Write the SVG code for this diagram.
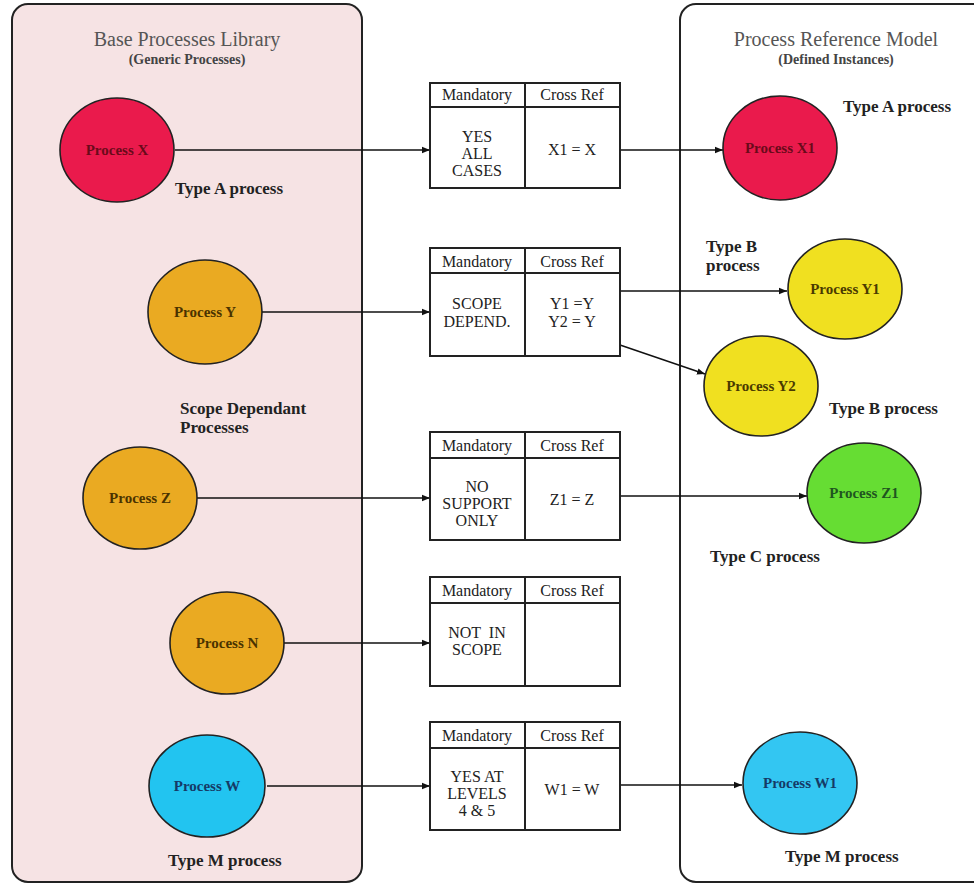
<svg xmlns="http://www.w3.org/2000/svg" width="974" height="885" viewBox="0 0 974 885">
<defs>
<marker id="arr" viewBox="0 0 10 10" refX="10" refY="5" markerWidth="8" markerHeight="8" markerUnits="userSpaceOnUse" orient="auto">
<path d="M0,1 L10,5 L0,9 Z" fill="#111"/>
</marker>
<style>
text{font-family:'Liberation Serif','Times New Roman','DejaVu Serif',serif}
.panel{stroke:#222;stroke-width:2}
.t{text-anchor:middle}
.title{font-size:20px;fill:#555}
.sub{font-size:14px;font-weight:bold;fill:#444}
.lbl{font-size:17px;font-weight:bold;fill:#222}
.node{stroke:#222;stroke-width:1.6}
.nt{font-size:15px;font-weight:bold;text-anchor:middle}
.tb{fill:#fff;stroke:#222;stroke-width:2}
.tt{font-size:16px;fill:#222;text-anchor:middle}
.c{stroke:#111;stroke-width:1.5;fill:none}
</style>
</defs>
<rect width="974" height="885" fill="#fff"/>
<rect class="panel" x="12" y="4" width="350" height="878" rx="16" fill="#f6e3e4"/>
<rect class="panel" x="680" y="4" width="320" height="878" rx="16" fill="#fff"/>
<text class="t title" x="187" y="46">Base Processes Library</text>
<text class="t sub" x="187" y="64">(Generic Processes)</text>
<text class="t title" x="836" y="46">Process Reference Model</text>
<text class="t sub" x="836" y="64">(Defined Instances)</text>

<g id="connectors">
<line class="c" x1="175" y1="150" x2="430" y2="150" marker-end="url(#arr)"/>
<line class="c" x1="620" y1="150" x2="723" y2="150" marker-end="url(#arr)"/>
<line class="c" x1="262" y1="312" x2="430" y2="312" marker-end="url(#arr)"/>
<line class="c" x1="620" y1="291" x2="787" y2="291" marker-end="url(#arr)"/>
<line class="c" x1="620" y1="345" x2="705" y2="374" marker-end="url(#arr)"/>
<line class="c" x1="197" y1="498" x2="430" y2="498" marker-end="url(#arr)"/>
<line class="c" x1="620" y1="496" x2="807" y2="496" marker-end="url(#arr)"/>
<line class="c" x1="284" y1="643" x2="430" y2="643" marker-end="url(#arr)"/>
<line class="c" x1="267" y1="786" x2="430" y2="786" marker-end="url(#arr)"/>
<line class="c" x1="620" y1="785" x2="742" y2="785" marker-end="url(#arr)"/>
</g>

<g id="processX">
<ellipse class="node" cx="117" cy="150" rx="57" ry="52" fill="#ea1a4c"/>
<text class="nt" x="117" y="155" fill="#6a0a1a">Process X</text>
</g>
<text class="lbl" x="175" y="194">Type A process</text>

<g id="processY">
<ellipse class="node" cx="205" cy="312" rx="57" ry="52" fill="#eaaa22"/>
<text class="nt" x="205" y="317" fill="#4a3300">Process Y</text>
</g>
<g id="processZ">
<ellipse class="node" cx="140" cy="498" rx="57" ry="51" fill="#eaaa22"/>
<text class="nt" x="140" y="503" fill="#4a3300">Process Z</text>
</g>
<text class="lbl" x="180" y="414">Scope Dependant</text>
<text class="lbl" x="180" y="433">Processes</text>
<g id="processN">
<ellipse class="node" cx="227" cy="643" rx="57" ry="51" fill="#eaaa22"/>
<text class="nt" x="227" y="648" fill="#4a3300">Process N</text>
</g>
<g id="processW">
<ellipse class="node" cx="207" cy="786" rx="58" ry="51" fill="#22c4f0"/>
<text class="nt" x="207" y="791" fill="#153a66">Process W</text>
</g>
<text class="lbl" x="168" y="866">Type M process</text>

<g id="table1">
<rect class="tb" x="430" y="83" width="190" height="105"/>
<line class="tb" x1="430" y1="107" x2="620" y2="107"/>
<line class="tb" x1="525" y1="83" x2="525" y2="188"/>
<text class="tt" x="477" y="100">Mandatory</text>
<text class="tt" x="572" y="100">Cross Ref</text>
<text class="tt" x="477" y="142">YES</text>
<text class="tt" x="477" y="159">ALL</text>
<text class="tt" x="477" y="176">CASES</text>
<text class="tt" x="572" y="155">X1 = X</text>
</g>
<g id="table2">
<rect class="tb" x="430" y="248" width="190" height="108"/>
<line class="tb" x1="430" y1="273" x2="620" y2="273"/>
<line class="tb" x1="525" y1="248" x2="525" y2="356"/>
<text class="tt" x="477" y="267">Mandatory</text>
<text class="tt" x="572" y="267">Cross Ref</text>
<text class="tt" x="477" y="309">SCOPE</text>
<text class="tt" x="477" y="327">DEPEND.</text>
<text class="tt" x="572" y="309">Y1 =Y</text>
<text class="tt" x="572" y="327">Y2 = Y</text>
</g>
<g id="table3">
<rect class="tb" x="430" y="432" width="190" height="108"/>
<line class="tb" x1="430" y1="458" x2="620" y2="458"/>
<line class="tb" x1="525" y1="432" x2="525" y2="540"/>
<text class="tt" x="477" y="451">Mandatory</text>
<text class="tt" x="572" y="451">Cross Ref</text>
<text class="tt" x="477" y="492">NO</text>
<text class="tt" x="477" y="509">SUPPORT</text>
<text class="tt" x="477" y="526">ONLY</text>
<text class="tt" x="572" y="505">Z1 = Z</text>
</g>
<g id="table4">
<rect class="tb" x="430" y="577" width="190" height="109"/>
<line class="tb" x1="430" y1="603" x2="620" y2="603"/>
<line class="tb" x1="525" y1="577" x2="525" y2="686"/>
<text class="tt" x="477" y="596">Mandatory</text>
<text class="tt" x="572" y="596">Cross Ref</text>
<text class="tt" x="477" y="638" xml:space="preserve">NOT  IN</text>
<text class="tt" x="477" y="655">SCOPE</text>
</g>
<g id="table5">
<rect class="tb" x="430" y="722" width="190" height="108"/>
<line class="tb" x1="430" y1="748" x2="620" y2="748"/>
<line class="tb" x1="525" y1="722" x2="525" y2="830"/>
<text class="tt" x="477" y="741">Mandatory</text>
<text class="tt" x="572" y="741">Cross Ref</text>
<text class="tt" x="477" y="782">YES AT</text>
<text class="tt" x="477" y="799">LEVELS</text>
<text class="tt" x="477" y="816">4 &amp; 5</text>
<text class="tt" x="572" y="795">W1 = W</text>
</g>

<g id="processX1">
<ellipse class="node" cx="780" cy="148" rx="57" ry="52" fill="#ea1a4c"/>
<text class="nt" x="780" y="153" fill="#6a0a1a">Process X1</text>
</g>
<text class="lbl" x="843" y="112">Type A process</text>
<g id="processY1">
<ellipse class="node" cx="845" cy="289" rx="57" ry="50" fill="#f0e020"/>
<text class="nt" x="845" y="294" fill="#4a3a00">Process Y1</text>
</g>
<text class="lbl" x="706" y="252">Type B</text>
<text class="lbl" x="706" y="271">process</text>
<g id="processY2">
<ellipse class="node" cx="761" cy="386" rx="57" ry="50" fill="#f0e020"/>
<text class="nt" x="761" y="391" fill="#4a3a00">Process Y2</text>
</g>
<text class="lbl" x="829" y="414">Type B process</text>
<g id="processZ1">
<ellipse class="node" cx="864" cy="493" rx="57" ry="50" fill="#66dd33"/>
<text class="nt" x="864" y="498" fill="#1f5520">Process Z1</text>
</g>
<text class="lbl" x="710" y="562">Type C process</text>
<g id="processW1">
<ellipse class="node" cx="800" cy="783" rx="57" ry="51" fill="#33c6f2"/>
<text class="nt" x="800" y="788" fill="#153a66">Process W1</text>
</g>
<text class="lbl" x="785" y="862">Type M process</text>
</svg>
